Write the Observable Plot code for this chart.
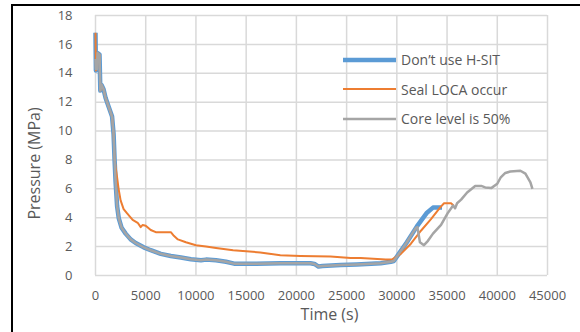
<!DOCTYPE html>
<html>
<head>
<meta charset="utf-8">
<script src="https://cdn.jsdelivr.net/npm/d3@7"></script>
<script src="https://cdn.jsdelivr.net/npm/@observablehq/plot@0.6"></script>
<style>
  body { margin: 0; background: #fff; }
  #wrap { position: relative; width: 580px; height: 332px; overflow: hidden; font-family: "Open Sans", sans-serif; }
  #chart svg { position: absolute; left: 0; top: 0; }
  #border { position: absolute; left: 11px; top: 4px; width: 580px; height: 340px; border-top: 2px solid #000; border-left: 2px solid #000; pointer-events: none; }
  #legend { position: absolute; left: 343px; top: 45px; font-size: 14px; color: #595959; }
  .row { height: 29.5px; display: flex; align-items: center; white-space: nowrap; }
  .sw { display: block; width: 53px; height: 12px; margin-right: 5px; flex: none; }
</style>
</head>
<body>
<div id="wrap">
  <div id="chart"></div>
  <div id="border"></div>
  <div id="legend"></div>
</div>
<script>
// ---- data ----
const seriesNames = ["Don’t use H-SIT", "Seal LOCA occur", "Core level is 50%"];
const seriesColors = ["#5b9bd5", "#ed7d31", "#a5a5a5"];
const seriesWidths = [4.5, 2, 2.5];

const xTicks = [0, 5000, 10000, 15000, 20000, 25000, 30000, 35000, 40000, 45000];
const yTicks = [0, 2, 4, 6, 8, 10, 12, 14, 16, 18];

const blueTime = [0, 40, 150, 200, 400, 480, 600, 800, 1000, 1300, 1650, 1800, 1900, 2000, 2150, 2320, 2600, 3000, 3500, 4000, 4800, 5500, 6500, 7500, 8500, 9500, 10500, 11000, 12000, 13000, 13800, 16000, 18400, 21400, 21800, 22200, 22600, 24400, 26000, 28400, 29400, 29700, 30300, 31000, 32000, 33000, 33600, 34500];
const bluePressure = [16.8, 14.2, 14.3, 15.4, 15.3, 12.8, 13.2, 12.9, 12.3, 11.7, 11.0, 9.8, 8.0, 6.5, 4.8, 3.95, 3.3, 2.9, 2.5, 2.25, 1.95, 1.75, 1.5, 1.35, 1.25, 1.12, 1.05, 1.1, 1.05, 0.95, 0.82, 0.82, 0.85, 0.85, 0.8, 0.62, 0.65, 0.72, 0.76, 0.85, 0.95, 1.0, 1.6, 2.3, 3.4, 4.35, 4.7, 4.7];

const orangeTime = [0, 40, 150, 200, 400, 480, 600, 800, 1000, 1300, 1650, 1800, 1900, 2000, 2150, 2300, 2500, 2800, 3150, 3700, 4200, 4500, 4700, 5000, 5500, 6000, 7000, 7500, 7800, 8200, 9000, 10000, 11000, 12000, 13700, 16400, 18400, 20400, 23400, 25400, 26400, 28900, 29500, 30400, 31400, 32400, 33400, 34300, 34700, 35400, 35650];
const orangePressure = [16.8, 14.2, 14.3, 15.4, 15.3, 12.8, 13.2, 12.9, 12.3, 11.7, 11.0, 9.8, 8.1, 7.5, 6.8, 6.0, 5.2, 4.6, 4.3, 3.85, 3.65, 3.35, 3.5, 3.45, 3.15, 3.0, 3.0, 3.0, 2.75, 2.5, 2.3, 2.1, 2.0, 1.9, 1.75, 1.6, 1.4, 1.35, 1.32, 1.22, 1.22, 1.1, 1.1, 1.5, 2.2, 3.1, 3.9, 4.7, 5.0, 5.0, 4.85];

const grayTime = [0, 40, 150, 200, 400, 480, 600, 800, 1000, 1300, 1650, 1800, 1900, 2000, 2150, 2320, 2600, 3000, 3500, 4000, 4800, 5500, 6500, 7500, 8500, 9500, 10500, 11000, 12000, 13000, 13800, 16000, 18400, 21400, 21800, 22200, 22600, 24400, 26000, 28400, 29400, 29700, 30300, 31000, 31900, 32050, 32300, 32700, 33100, 33600, 34400, 35050, 35600, 35800, 36000, 36400, 37000, 37800, 38400, 38800, 39400, 40000, 40350, 40800, 41300, 42300, 42800, 43300, 43500];
const grayPressure = [15.0, 14.3, 14.3, 15.4, 15.3, 12.8, 13.2, 12.9, 12.3, 11.7, 11.0, 9.8, 8.0, 6.5, 4.8, 3.95, 3.3, 2.9, 2.5, 2.25, 1.95, 1.75, 1.5, 1.35, 1.25, 1.12, 1.05, 1.1, 1.05, 0.95, 0.82, 0.82, 0.85, 0.85, 0.8, 0.62, 0.65, 0.72, 0.76, 0.85, 0.95, 1.0, 1.6, 2.3, 3.3, 3.35, 2.3, 2.1, 2.4, 2.9, 3.5, 4.3, 4.85, 4.65, 5.0, 5.25, 5.75, 6.2, 6.2, 6.1, 6.05, 6.35, 6.8, 7.1, 7.2, 7.25, 7.05, 6.45, 6.0];

// ---- build table ----
const series = [
  {time: blueTime, pressure: bluePressure},
  {time: orangeTime, pressure: orangePressure},
  {time: grayTime, pressure: grayPressure}
];
const rows = series.flatMap((s, i) => s.time.map((t, j) => ({t, p: s.pressure[j], k: seriesNames[i]})));

const font = '"Open Sans", sans-serif';
const chart = Plot.plot({
  width: 580,
  height: 332,
  marginLeft: 95,
  marginRight: 33,
  marginTop: 15,
  marginBottom: 57,
  style: {fontFamily: font, fontSize: "13px", color: "#595959", background: "transparent"},
  x: {domain: [0, 45000], ticks: xTicks, tickSize: 0, tickPadding: 15, label: null, tickFormat: d => String(d)},
  y: {domain: [0, 18], ticks: yTicks, tickSize: 0, tickPadding: 23, label: null},
  marks: [
    Plot.ruleX(xTicks, {stroke: "#d9d9d9", strokeWidth: 1.5}),
    Plot.ruleY(yTicks, {stroke: "#d9d9d9", strokeWidth: 1.5}),
    ...seriesNames.map((n, i) => Plot.line(rows.filter(r => r.k === n), {
      x: "t", y: "p", stroke: seriesColors[i], strokeWidth: seriesWidths[i], strokeLinejoin: "round", strokeLinecap: "butt"
    })),
    Plot.text(["Pressure (MPa)"], {frameAnchor: "left", rotate: -90, dx: -61, dy: 18, fontSize: 16, fill: "#595959", textAnchor: "middle"}),
    Plot.text(["Time (s)"], {frameAnchor: "bottom", dx: 8, dy: 44, fontSize: 16, fill: "#595959", textAnchor: "middle"})
  ]
});
document.getElementById("chart").appendChild(chart);

// ---- legend ----
const leg = document.getElementById("legend");
seriesNames.forEach((n, i) => {
  const r = document.createElement("div");
  r.className = "row";
  r.innerHTML = `<svg class="sw" viewBox="0 0 53 12"><line x1="0" x2="53" y1="6" y2="6" stroke="${seriesColors[i]}" stroke-width="${seriesWidths[i]}"/></svg><span>${n}</span>`;
  leg.appendChild(r);
});
</script>
</body>
</html>
